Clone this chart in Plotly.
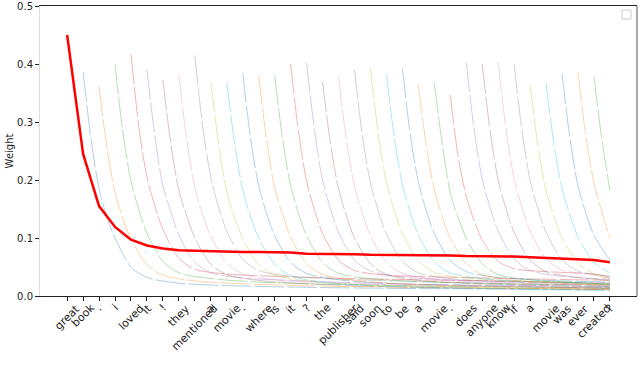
import plotly.graph_objects as go

# ── data ────────────────────────────────────────────────────────────────────
TOKENS = ["great", "book", ".", "i", "loved", "it", "!", "they", "mentioned", "a",
          "movie", ".", "where", "is", "it", "?", "the", "publisher", "said", "soon",
          "to", "be", "a", "movie", ".", "does", "anyone", "know", "if", "a",
          "movie", "was", "ever", "created", "?"]

MEAN_WEIGHT = [0.450, 0.245, 0.155, 0.119, 0.097, 0.087, 0.082, 0.079, 0.078, 0.077,
               0.077, 0.076, 0.076, 0.076, 0.075, 0.073, 0.073, 0.072, 0.072, 0.071,
               0.071, 0.071, 0.070, 0.070, 0.070, 0.069, 0.069, 0.068, 0.068, 0.067,
               0.066, 0.064, 0.063, 0.062, 0.058]

# steps after a token first appears; each curve is cut at the last token
STEP_OFFSETS = [0, 0.5, 1, 1.5, 2, 3, 4, 6, 9, 14, 20, 27]

# weight of token 1..33 over the following steps (last value = weight at final token)
TOKEN_CURVES = [
    [0.386, 0.270, 0.185, 0.135, 0.100, 0.050, 0.032, 0.022, 0.018, 0.015, 0.013, 0.012, 0.011],
    [0.362, 0.255, 0.178, 0.133, 0.098, 0.054, 0.036, 0.026, 0.021, 0.017, 0.015, 0.013, 0.012],
    [0.400, 0.280, 0.198, 0.148, 0.108, 0.060, 0.040, 0.030, 0.024, 0.020, 0.017, 0.015, 0.014],
    [0.417, 0.290, 0.205, 0.155, 0.115, 0.065, 0.046, 0.038, 0.034, 0.030, 0.027, 0.024, 0.022],
    [0.390, 0.275, 0.190, 0.145, 0.105, 0.058, 0.040, 0.031, 0.027, 0.022, 0.019, 0.017, 0.016],
    [0.372, 0.262, 0.182, 0.138, 0.100, 0.055, 0.037, 0.027, 0.021, 0.016, 0.013, 0.011, 0.010],
    [0.381, 0.268, 0.187, 0.140, 0.103, 0.057, 0.038, 0.028, 0.023, 0.019, 0.016, 0.014],
    [0.415, 0.290, 0.205, 0.152, 0.112, 0.063, 0.044, 0.034, 0.029, 0.025, 0.021, 0.019],
    [0.369, 0.260, 0.180, 0.135, 0.099, 0.054, 0.036, 0.026, 0.020, 0.016, 0.013, 0.012],
    [0.369, 0.262, 0.183, 0.136, 0.100, 0.055, 0.035, 0.024, 0.018, 0.014, 0.011, 0.009],
    [0.385, 0.270, 0.190, 0.142, 0.104, 0.058, 0.039, 0.028, 0.022, 0.018, 0.015, 0.013],
    [0.381, 0.268, 0.187, 0.140, 0.102, 0.056, 0.037, 0.027, 0.021, 0.017, 0.014, 0.012],
    [0.381, 0.270, 0.190, 0.142, 0.104, 0.058, 0.039, 0.030, 0.025, 0.021, 0.018, 0.016],
    [0.400, 0.282, 0.198, 0.148, 0.108, 0.062, 0.044, 0.036, 0.033, 0.030, 0.027],
    [0.402, 0.285, 0.200, 0.150, 0.110, 0.062, 0.043, 0.033, 0.028, 0.024, 0.021],
    [0.369, 0.262, 0.185, 0.138, 0.100, 0.056, 0.037, 0.027, 0.022, 0.018, 0.015],
    [0.378, 0.268, 0.190, 0.142, 0.104, 0.058, 0.039, 0.029, 0.024, 0.020, 0.018],
    [0.391, 0.276, 0.195, 0.146, 0.107, 0.060, 0.040, 0.030, 0.025, 0.021, 0.019],
    [0.393, 0.278, 0.196, 0.147, 0.108, 0.061, 0.041, 0.031, 0.026, 0.022, 0.020],
    [0.384, 0.272, 0.192, 0.144, 0.105, 0.059, 0.040, 0.030, 0.025, 0.022],
    [0.393, 0.278, 0.197, 0.147, 0.108, 0.061, 0.042, 0.032, 0.027, 0.024],
    [0.365, 0.260, 0.183, 0.137, 0.100, 0.056, 0.037, 0.027, 0.022, 0.019],
    [0.367, 0.262, 0.178, 0.135, 0.100, 0.056, 0.037, 0.028, 0.023, 0.020],
    [0.347, 0.240, 0.172, 0.130, 0.097, 0.060, 0.047, 0.042, 0.038, 0.033],
    [0.403, 0.286, 0.202, 0.152, 0.112, 0.064, 0.044, 0.034, 0.029],
    [0.400, 0.284, 0.200, 0.150, 0.110, 0.062, 0.042, 0.032, 0.027],
    [0.403, 0.286, 0.202, 0.152, 0.112, 0.064, 0.045, 0.036, 0.031],
    [0.400, 0.284, 0.200, 0.150, 0.110, 0.063, 0.043, 0.034],
    [0.364, 0.258, 0.182, 0.137, 0.100, 0.057, 0.038, 0.030],
    [0.367, 0.262, 0.185, 0.140, 0.102, 0.058, 0.040],
    [0.383, 0.272, 0.190, 0.143, 0.105, 0.062],
    [0.386, 0.275, 0.195, 0.145, 0.100],
    [0.379, 0.270, 0.183],
]

TAB10 = ["31,119,180", "255,127,14", "44,160,44", "214,39,40", "148,103,189",
         "140,86,75", "227,119,194", "127,127,127", "188,189,34", "23,190,207"]

_FONT = "DejaVu Sans, Arial, sans-serif"
_INK = "#222222"

last = len(TOKENS) - 1
fig = go.Figure()

for i, vals in enumerate(TOKEN_CURVES):
    start = i + 1
    xs = [start + o for o in STEP_OFFSETS if start + o < last] + [last]
    assert len(xs) == len(vals), (start, len(xs), len(vals))
    fig.add_trace(go.Scatter(
        x=xs, y=vals, mode="lines", showlegend=False, hoverinfo="skip",
        line=dict(color=f"rgba({TAB10[i % 10]},0.35)", width=1,
                  shape="spline", smoothing=0.8, dash="30px,3px")))

fig.add_trace(go.Scatter(
    x=list(range(len(TOKENS))), y=MEAN_WEIGHT, mode="lines", showlegend=False,
    line=dict(color="#ff0000", width=2.5)))

# token labels, centred under each tick like matplotlib's rotated labels
for k, tok in enumerate(TOKENS):
    fig.add_annotation(
        x=k, y=0, xref="x", yref="paper", yshift=-3, text=tok, showarrow=False,
        textangle=-45, xanchor="center", yanchor="top",
        font=dict(family=_FONT, size=11, color=_INK))

fig.update_layout(
    width=640, height=366,
    margin=dict(l=40, r=3, t=6, b=70, autoexpand=False),
    paper_bgcolor="white", plot_bgcolor="white",
    font=dict(family=_FONT, size=10, color=_INK),
    xaxis=dict(range=[-1.7, 35.7], tickvals=list(range(len(TOKENS))),
               showticklabels=False, ticks="outside", ticklen=4, tickcolor=_INK,
               showgrid=False, zeroline=False, showline=True, mirror=True,
               linecolor=_INK, linewidth=1, automargin=False),
    yaxis=dict(range=[0, 0.5], dtick=0.1, tickformat=".1f", ticks="outside",
               ticklen=4, tickcolor=_INK, showgrid=False, zeroline=False,
               showline=True, linecolor="#dddddd", linewidth=1, automargin=False,
               title=dict(text="Weight", standoff=1, font=dict(size=10))),
    shapes=[
        dict(type="line", xref="paper", yref="paper", x0=1, x1=1, y0=0, y1=1,
             line=dict(color="#555555", width=1)),
        dict(type="rect", xref="paper", yref="paper", x0=0.975, x1=0.99,
             y0=0.955, y1=0.986, line=dict(color="#cccccc", width=1),
             fillcolor="white"),
    ],
)

# the page body has a default 8px margin; drop it so the figure sits at (0, 0)
fig.write_html("out.html", config={"displayModeBar": False},
               post_script="document.body.style.margin = '0';")
